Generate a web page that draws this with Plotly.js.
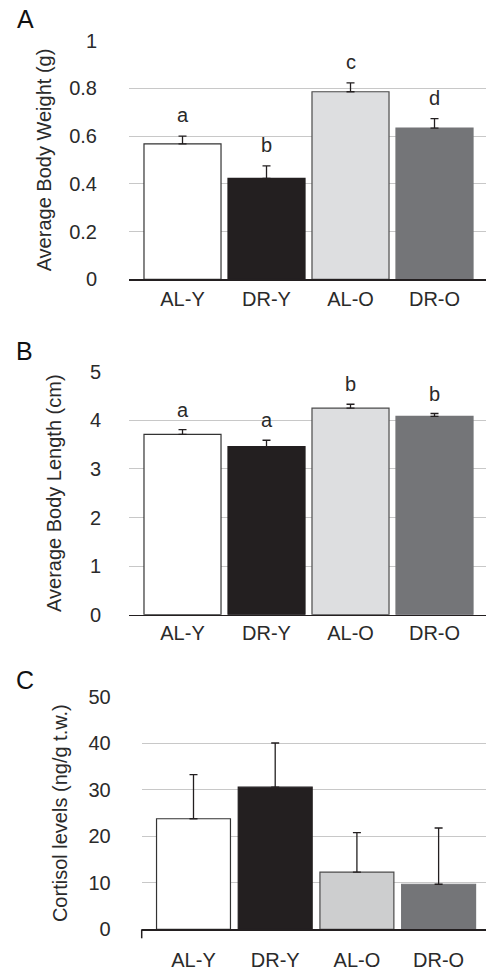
<!DOCTYPE html>
<html>
<head>
<meta charset="utf-8">
<script src="https://cdn.plot.ly/plotly-3.0.1.min.js"></script>
<style>html,body{margin:0;padding:0;background:#fff;}#chart{width:486px;height:973px;}</style>
</head>
<body>
<div id="chart"></div>
<script>
const categories = ['AL-Y', 'DR-Y', 'AL-O', 'DR-O'];

const weight = [0.568, 0.423, 0.786, 0.634];
const weightErr = [0.032, 0.052, 0.037, 0.039];
const weightLetters = ['a', 'b', 'c', 'd'];

const bodyLength = [3.71, 3.46, 4.25, 4.08];
const bodyLengthErr = [0.10, 0.13, 0.08, 0.06];
const lengthLetters = ['a', 'a', 'b', 'b'];

const cortisol = [23.8, 30.6, 12.3, 9.7];
const cortisolErr = [9.5, 9.5, 8.5, 12.1];

const panelLabels = ['A', 'B', 'C'];
const yTitles = ['Average Body Weight (g)', 'Average Body Length (cm)', 'Cortisol levels (ng/g t.w.)'];

const FONT = 'Liberation Sans, Arial, Helvetica, sans-serif';
const TXT = '#2a2a2a';
const fillsAB = ['#ffffff', '#231f20', '#dddee0', '#747578'];
const fillsC = ['#ffffff', '#231f20', '#cdcecf', '#747578'];
const outlines = ['#333333', '#231f20', '#4a4a4a', '#747578'];

function barTrace(y, err, fills, xa, ya, width) {
  return {
    type: 'bar', x: categories, y: y, xaxis: xa, yaxis: ya, width: width,
    marker: {color: fills, line: {color: outlines, width: 1.2}},
    error_y: {type: 'data', array: err, symmetric: false, arrayminus: err.map(() => 0),
              color: '#231f20', thickness: 1.3, width: 4},
    showlegend: false, hoverinfo: 'skip'
  };
}

const data = [
  barTrace(weight, weightErr, fillsAB, 'x', 'y', 0.917),
  barTrace(bodyLength, bodyLengthErr, fillsAB, 'x2', 'y2', 0.917),
  barTrace(cortisol, cortisolErr, fillsC, 'x3', 'y3', 0.905)
];

function xAxis(domain, range, anchor, ticklen) {
  const ax = {
    domain: domain, range: range, anchor: anchor, type: 'category',
    showline: true, linecolor: '#231f20', linewidth: 1.5,
    showgrid: false, zeroline: false,
    tickfont: {family: FONT, size: 20, color: TXT}, fixedrange: true
  };
  if (ticklen > 0) { ax.ticks = 'outside'; ax.ticklen = ticklen; ax.tickcolor = 'rgba(0,0,0,0)'; }
  else { ax.ticks = ''; }
  return ax;
}
function yAxis(domain, range, dtick, anchor, title, ticklen, standoff) {
  return {
    domain: domain, range: range, dtick: dtick, anchor: anchor,
    showline: false, zeroline: false, showgrid: true, gridcolor: '#c8c8c8', gridwidth: 1,
    ticks: 'outside', ticklen: ticklen, tickcolor: 'rgba(0,0,0,0)',
    tickfont: {family: FONT, size: 20, color: TXT},
    title: {text: title, font: {family: FONT, size: 20, color: TXT}, standoff: standoff},
    fixedrange: true
  };
}

const annotations = [];
weight.forEach((v, i) => annotations.push({
  x: categories[i], y: v + weightErr[i], xref: 'x', yref: 'y', text: weightLetters[i],
  showarrow: false, yanchor: 'bottom', yshift: 8, font: {family: FONT, size: 20, color: TXT}
}));
bodyLength.forEach((v, i) => annotations.push({
  x: categories[i], y: v + bodyLengthErr[i], xref: 'x2', yref: 'y2', text: lengthLetters[i],
  showarrow: false, yanchor: 'bottom', yshift: 7, font: {family: FONT, size: 20, color: TXT}
}));
const labelPos = [[25, 19], [24, 351], [25, 680]];
panelLabels.forEach((t, i) => annotations.push({
  x: labelPos[i][0] / 486, y: 1 - labelPos[i][1] / 973, xref: 'paper', yref: 'paper',
  text: t, showarrow: false, xanchor: 'center', yanchor: 'middle',
  font: {family: FONT, size: 25, color: '#111'}
}));

const layout = {
  width: 486, height: 973,
  margin: {l: 0, r: 0, t: 0, b: 0},
  paper_bgcolor: '#fff', plot_bgcolor: 'rgba(0,0,0,0)',
  bargap: 0,
  xaxis: xAxis([129 / 486, 1], [-0.637, 3.613], 'y', 1),
  yaxis: yAxis([1 - 279.3 / 973, 1 - 40.7 / 973], [0, 1], 0.2, 'x', yTitles[0], 27, 12),
  xaxis2: xAxis([129 / 486, 1], [-0.637, 3.613], 'y2', 0),
  yaxis2: yAxis([1 - 614.7 / 973, 1 - 371.7 / 973], [0, 5], 1, 'x2', yTitles[1], 23, 22),
  xaxis3: xAxis([141.7 / 486, 1], [-0.634, 3.58], 'y3', 12),
  yaxis3: yAxis([1 - 929.3 / 973, 1 - 697 / 973], [0, 50], 10, 'x3', yTitles[2], 26, 15),
  annotations: annotations,
  shapes: [{
    type: 'line', xref: 'x3 domain', x0: 0, x1: 0,
    yref: 'y3 domain', ysizemode: 'pixel', yanchor: 0, y0: 0, y1: -9,
    line: {color: '#231f20', width: 1.5}
  }]
};

Plotly.newPlot('chart', data, layout, {staticPlot: true, displayModeBar: false});
</script>
</body>
</html>
